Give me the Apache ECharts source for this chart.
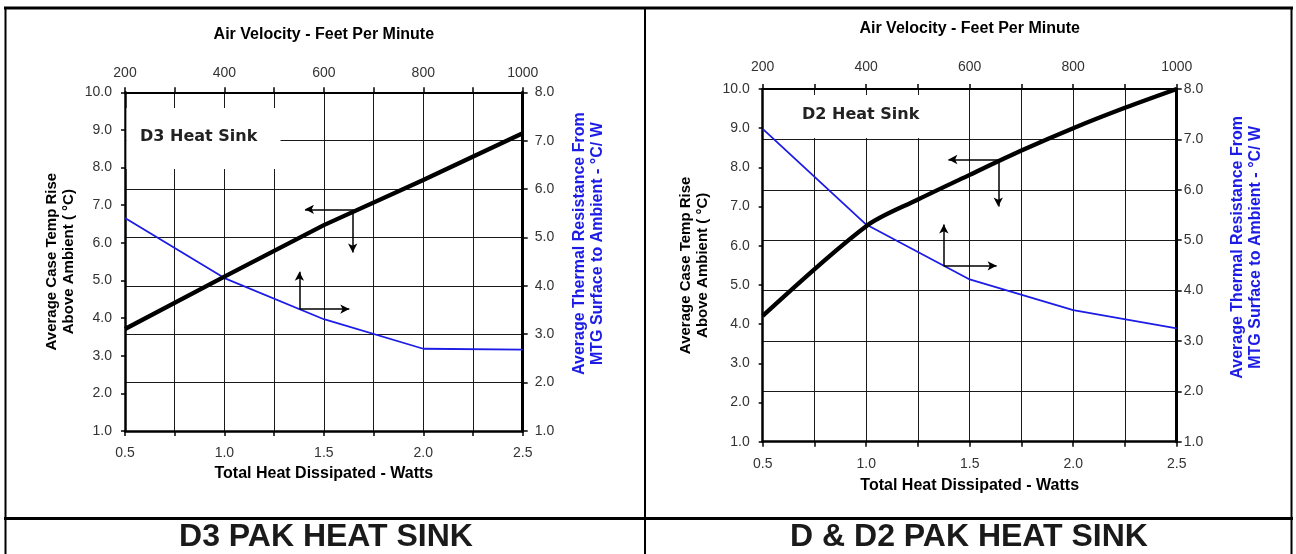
<!DOCTYPE html>
<html><head><meta charset="utf-8">
<script src="https://cdn.jsdelivr.net/npm/echarts@6/dist/echarts.min.js"></script>
<style>html,body{margin:0;padding:0;background:#fff}#c{width:1296px;height:554px}</style>
</head><body><div id="c"></div>
<script>
// ---------- data ----------
const wattLabels = [0.5, 1.0, 1.5, 2.0, 2.5];
const velocityLabels = [200, 400, 600, 800, 1000];
const tempLabels = [1, 2, 3, 4, 5, 6, 7, 8, 9, 10];
const resistanceLabels = [1, 2, 3, 4, 5, 6, 7, 8];

// D3 heat sink
const d3TempWatts = [0.5, 1.0, 1.5, 2.0, 2.5];
const d3TempRise = [3.71, 5.10, 6.47, 7.67, 8.91];
const d3ResWatts = [0.5, 1.0, 1.5, 2.0, 2.5];
const d3Resistance = [5.40, 4.16, 3.31, 2.70, 2.68];

// D2 heat sink
const d2TempWatts = [0.5, 1.0, 1.25, 1.5, 1.75, 2.0, 2.25, 2.5];
const d2TempRise = [4.21, 6.50, 7.18, 7.81, 8.43, 9.00, 9.52, 10.0];
const d2ResWatts = [0.5, 1.0, 1.5, 2.0, 2.5];
const d2Resistance = [7.21, 5.31, 4.22, 3.61, 3.25];

// arrow annotations (data units: [watts, value])
const d3TempArrowCorner = [1.645, 6.89];
const d3TempArrowLeft = [1.405, 6.89];
const d3TempArrowDown = [1.645, 5.74];
const d3ResArrowCorner = [1.377, 3.52];
const d3ResArrowUp = [1.377, 4.29];
const d3ResArrowRight = [1.628, 3.52];
const d2TempArrowCorner = [1.638, 8.20];
const d2TempArrowLeft = [1.397, 8.20];
const d2TempArrowDown = [1.638, 7.00];
const d2ResArrowCorner = [1.375, 4.49];
const d2ResArrowUp = [1.375, 5.31];
const d2ResArrowRight = [1.630, 4.49];

// ---------- styling ----------
const FONT = 'Liberation Sans, Arial, sans-serif';
const BLUE = '#1c1ce6';
const labelStyle = {color: '#333', fontSize: 14, fontFamily: FONT};
const has = (arr, v) => arr.some(a => Math.abs(a - v) < 1e-6);

const zip = (xs, ys) => xs.map((x, i) => [x, ys[i]]);

function bottomAxis(g, margin, gap) {
  return {
    type: 'value', gridIndex: g, position: 'bottom', min: 0.5, max: 2.5, interval: 0.25,
    axisLine: {show: true, onZero: false, lineStyle: {color: '#000', width: 2.5}},
    axisTick: {show: true, length: 5, lineStyle: {color: '#000', width: 1.5}},
    axisLabel: Object.assign({margin: margin, formatter: v => has(wattLabels, v) ? v.toFixed(1) : ''}, labelStyle),
    splitLine: {show: true, lineStyle: {color: '#1a1a1a', width: 1}},
    name: 'Total Heat Dissipated - Watts', nameLocation: 'middle', nameGap: gap, nameMoveOverlap: false,
    nameTextStyle: {fontWeight: 'bold', fontSize: 16, color: '#000', fontFamily: FONT}
  };
}
function topAxis(g, margin, gap) {
  return {
    type: 'value', gridIndex: g, position: 'top', min: 200, max: 1000, interval: 100,
    axisLine: {show: true, onZero: false, lineStyle: {color: '#000', width: 2}},
    axisTick: {show: true, length: 5, lineStyle: {color: '#000', width: 1.5}},
    axisLabel: Object.assign({margin: margin, formatter: v => has(velocityLabels, v) ? String(v) : ''}, labelStyle),
    splitLine: {show: false},
    name: 'Air Velocity - Feet Per Minute', nameLocation: 'middle', nameGap: gap, nameMoveOverlap: false,
    nameTextStyle: {fontWeight: 'bold', fontSize: 16, color: '#000', fontFamily: FONT}
  };
}
function leftAxis(g, gap) {
  return {
    type: 'value', gridIndex: g, position: 'left', min: 1, max: 10, interval: 1,
    axisLine: {show: true, onZero: false, lineStyle: {color: '#000', width: 2.5}},
    axisTick: {show: true, length: 4, lineStyle: {color: '#000', width: 1.5}},
    axisLabel: Object.assign({margin: 13, formatter: v => has(tempLabels, v) ? v.toFixed(1) : ''}, labelStyle),
    splitLine: {show: false},
    name: 'Average Case Temp Rise\nAbove Ambient ( °C)', nameLocation: 'middle', nameRotate: 90,
    nameGap: gap, nameMoveOverlap: false,
    nameTextStyle: {fontWeight: 'bold', fontSize: 15, lineHeight: 17, color: '#000', fontFamily: FONT}
  };
}
function rightAxis(g, margin, gap) {
  return {
    type: 'value', gridIndex: g, position: 'right', min: 1, max: 8, interval: 1,
    axisLine: {show: true, onZero: false, lineStyle: {color: '#000', width: 3}},
    axisTick: {show: true, length: 5, lineStyle: {color: '#000', width: 1.5}},
    axisLabel: Object.assign({margin: margin, formatter: v => has(resistanceLabels, v) ? v.toFixed(1) : ''}, labelStyle),
    splitLine: {show: true, lineStyle: {color: '#1a1a1a', width: 1}},
    name: 'Average Thermal Resistance From\nMTG Surface to Ambient - °C/ W', nameLocation: 'middle', nameRotate: 90,
    nameGap: gap, nameMoveOverlap: false,
    nameTextStyle: {fontWeight: 'bold', fontSize: 16, lineHeight: 18, color: BLUE, fontFamily: FONT, padding: [0, 0, 0, 36]}
  };
}
function arrows(corner, a, b) {
  return {
    silent: true, symbol: ['none', 'arrow'], symbolSize: [7, 9], animation: false,
    lineStyle: {color: '#000', width: 1.5, type: 'solid'}, label: {show: false},
    emphasis: {disabled: true},
    data: [[{coord: corner}, {coord: a}], [{coord: corner}, {coord: b}]]
  };
}
function tempSeries(xi, yi, xs, ys, corner, a, b, smooth) {
  return {type: 'line', xAxisIndex: xi, yAxisIndex: yi, data: zip(xs, ys), symbol: 'none', z: 4,
    smooth: smooth,
    lineStyle: {color: '#000', width: 4.3}, markLine: arrows(corner, a, b)};
}
function resSeries(xi, yi, xs, ys, corner, a, b) {
  return {type: 'line', xAxisIndex: xi, yAxisIndex: yi, data: zip(xs, ys), symbol: 'none', z: 3,
    lineStyle: {color: BLUE, width: 1.8}, markLine: arrows(corner, a, b)};
}

const chart = echarts.init(document.getElementById('c'), null, {renderer: 'canvas'});
chart.setOption({
  animation: false,
  backgroundColor: '#fff',
  grid: [
    {left: 125, top: 92.3, width: 397.7, height: 338.7},
    {left: 762.7, top: 89, width: 414, height: 352.7}
  ],
  xAxis: [bottomAxis(0, 15, 35), topAxis(0, 12, 50), bottomAxis(1, 15, 36), topAxis(1, 15, 52)],
  yAxis: [leftAxis(0, 48), rightAxis(0, 12, 48), leftAxis(1, 51), rightAxis(1, 7, 52)],
  series: [
    tempSeries(0, 0, d3TempWatts, d3TempRise, d3TempArrowCorner, d3TempArrowLeft, d3TempArrowDown, false),
    resSeries(0, 1, d3ResWatts, d3Resistance, d3ResArrowCorner, d3ResArrowUp, d3ResArrowRight),
    tempSeries(2, 2, d2TempWatts, d2TempRise, d2TempArrowCorner, d2TempArrowLeft, d2TempArrowDown, 0.3),
    resSeries(2, 3, d2ResWatts, d2Resistance, d2ResArrowCorner, d2ResArrowUp, d2ResArrowRight)
  ],
  graphic: [
    // white label boxes that hide grid lines behind the captions
    {type: 'rect', z: 1, shape: {x: 126.5, y: 108, width: 154, height: 61}, style: {fill: '#fff'}},
    {type: 'rect', z: 1, shape: {x: 764.5, y: 95, width: 184, height: 43}, style: {fill: '#fff'}},
    {type: 'text', z: 5, x: 140, y: 137, style: {text: 'D3 Heat Sink', fontFamily: 'DejaVu Sans', fontWeight: 'bold', fontSize: 16, fill: '#222', verticalAlign: 'middle'}},
    {type: 'text', z: 5, x: 802, y: 115, style: {text: 'D2 Heat Sink', fontFamily: 'DejaVu Sans', fontWeight: 'bold', fontSize: 16, fill: '#222', verticalAlign: 'middle'}},
    // table frame
    {type: 'line', z: 6, shape: {x1: 4, y1: 8, x2: 1293, y2: 8}, style: {stroke: '#000', lineWidth: 3}},
    {type: 'line', z: 6, shape: {x1: 5.5, y1: 7, x2: 5.5, y2: 554}, style: {stroke: '#000', lineWidth: 2}},
    {type: 'line', z: 6, shape: {x1: 645, y1: 7, x2: 645, y2: 554}, style: {stroke: '#000', lineWidth: 2}},
    {type: 'line', z: 6, shape: {x1: 1291.5, y1: 7, x2: 1291.5, y2: 554}, style: {stroke: '#000', lineWidth: 2}},
    {type: 'line', z: 6, shape: {x1: 4, y1: 518.5, x2: 1293, y2: 518.5}, style: {stroke: '#000', lineWidth: 3}},
    {type: 'text', z: 6, x: 326, y: 537, style: {text: 'D3 PAK HEAT SINK', fontFamily: FONT, fontWeight: 'bold', fontSize: 32, fill: '#1a1a1a', align: 'center', verticalAlign: 'middle'}},
    {type: 'text', z: 6, x: 969, y: 537, style: {text: 'D & D2 PAK HEAT SINK', fontFamily: FONT, fontWeight: 'bold', fontSize: 32, fill: '#1a1a1a', align: 'center', verticalAlign: 'middle'}}
  ]
});
</script></body></html>
